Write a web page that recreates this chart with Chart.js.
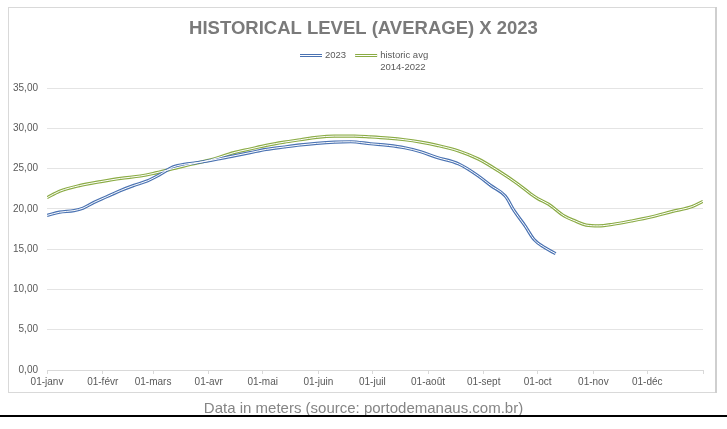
<!DOCTYPE html>
<html>
<head>
<meta charset="utf-8">
<script src="https://cdn.jsdelivr.net/npm/chart.js@4/dist/chart.umd.min.js"></script>
<style>
html,body{margin:0;padding:0;background:#fff;}
#wrap{width:727px;height:429px;position:relative;}
</style>
</head>
<body>
<div id="wrap"><canvas id="c" width="727" height="429"></canvas></div>
<script>
// ---- data ----
const titleText = 'HISTORICAL LEVEL (AVERAGE) X 2023';
const captionText = 'Data in meters (source: portodemanaus.com.br)';
const seriesNames = [['2023'], ['historic avg', '2014-2022']];
const monthStartDays = [0, 31, 59, 90, 120, 151, 181, 212, 243, 273, 304, 334, 365];
const monthLabels = ['01-janv', '01-févr', '01-mars', '01-avr', '01-mai', '01-juin', '01-juil', '01-août', '01-sept', '01-oct', '01-nov', '01-déc', ''];
const yTicks = [0, 5, 10, 15, 20, 25, 30, 35];

const days2023 = [0, 7, 15, 20, 26, 33, 41, 48, 56, 63, 70, 78, 85, 95, 104, 113, 122, 132, 141, 150, 160, 169, 180, 190, 199, 208, 217, 229, 240, 247, 255, 260, 266, 271, 277, 283];
const level2023 = [19.2, 19.6, 19.8, 20.1, 20.8, 21.5, 22.3, 22.9, 23.5, 24.3, 25.2, 25.6, 25.8, 26.2, 26.6, 27.0, 27.4, 27.7, 27.95, 28.15, 28.3, 28.35, 28.1, 27.9, 27.6, 27.1, 26.4, 25.6, 24.1, 22.9, 21.6, 19.75, 17.9, 16.2, 15.2, 14.45];

const daysHist = [0, 7, 18, 30, 41, 52, 59, 70, 81, 91, 104, 113, 122, 132, 141, 150, 160, 171, 180, 190, 199, 208, 217, 229, 240, 251, 262, 269, 273, 279, 288, 294, 300, 307, 315, 325, 336, 348, 359, 365];
const levelHist = [21.4, 22.2, 22.9, 23.4, 23.8, 24.1, 24.4, 25.0, 25.6, 26.1, 27.0, 27.45, 27.9, 28.3, 28.6, 28.9, 29.05, 29.05, 28.95, 28.8, 28.6, 28.3, 27.9, 27.2, 26.2, 24.75, 23.1, 21.9, 21.3, 20.6, 19.1, 18.5, 18.0, 17.9, 18.1, 18.5, 19.0, 19.7, 20.3, 20.95];

// ---- styles ----
const BLUE = '#4a72b2';
const GREEN = '#8aab44';
const SERIES_COLORS = [BLUE, GREEN];
const TICKFONT = "'Liberation Sans', Arial, sans-serif";

function pts(xs, ys) { return xs.map((x, i) => ({x: x, y: ys[i]})); }

const framePlugin = {
  id: 'frame',
  beforeDraw(chart) {
    const ctx = chart.ctx;
    ctx.save();
    ctx.fillStyle = '#fff';
    ctx.fillRect(0, 0, chart.width, chart.height);
    ctx.strokeStyle = '#d9d9d9';
    ctx.lineWidth = 1;
    ctx.strokeRect(8.5, 7.5, 707, 385);
    ctx.fillStyle = '#cfcfcf';
    ctx.fillRect(715, 7, 2, 386);
    ctx.restore();
  },
  afterDraw(chart) {
    const ctx = chart.ctx;
    ctx.save();
    // bottom rule
    ctx.fillStyle = '#000';
    ctx.fillRect(0, 415, chart.width, 2);
    // legend
    ctx.font = '9.5px ' + TICKFONT;
    ctx.textBaseline = 'middle';
    ctx.textAlign = 'left';
    const iconW = 22, gapIcon = 3, gapItem = 9, lineH = 12, y0 = 55.5;
    const widths = seriesNames.map(lines => iconW + gapIcon + Math.max(...lines.map(t => ctx.measureText(t).width)));
    const total = widths.reduce((a, b) => a + b, 0) + gapItem * (widths.length - 1);
    let x = Math.round(364 - total / 2);
    seriesNames.forEach((lines, k) => {
      ctx.fillStyle = SERIES_COLORS[k];
      ctx.fillRect(x, y0 - 1.5, iconW, 3);
      ctx.fillStyle = '#fff';
      ctx.fillRect(x, y0 - 0.5, iconW, 1);
      ctx.fillStyle = '#595959';
      lines.forEach((t, j) => ctx.fillText(t, x + iconW + gapIcon, y0 + j * lineH));
      x += widths[k] + gapItem;
    });
    ctx.restore();
  }
};

function lineDs(label, data, color, width, order) {
  return {
    label: label, data: data, borderColor: color, backgroundColor: color,
    borderWidth: width, pointRadius: 0, pointHoverRadius: 0,
    tension: 0.4, cubicInterpolationMode: 'monotone', fill: false, order: order
  };
}

new Chart(document.getElementById('c'), {
  type: 'line',
  data: {
    datasets: [
      lineDs('2023 (inner)', pts(days2023, level2023), '#ffffff', 1, 0),
      lineDs('historic (inner)', pts(daysHist, levelHist), '#ffffff', 1, 0),
      lineDs('2023', pts(days2023, level2023), BLUE, 3.2, 1),
      lineDs('historic avg 2014-2022', pts(daysHist, levelHist), GREEN, 3.2, 1)
    ]
  },
  options: {
    responsive: false,
    animation: false,
    events: [],
    layout: {padding: {left: 0, right: 0, top: 0, bottom: 9}},
    plugins: {
      title: {
        display: true, text: titleText, color: '#7a7a7a',
        font: {family: "'Liberation Sans', Arial, sans-serif", size: 18.5, weight: 'bold'},
        padding: {top: 18, bottom: 48}
      },
      subtitle: {
        display: true, text: captionText, position: 'bottom', color: '#858585',
        font: {family: "'Liberation Sans', Arial, sans-serif", size: 15, weight: 'normal'},
        padding: {top: 10, bottom: 2}
      },
      legend: {display: false},
      tooltip: {enabled: false}
    },
    scales: {
      x: {
        type: 'linear', min: 0, max: 365,
        afterBuildTicks(scale) { scale.ticks = monthStartDays.map(v => ({value: v})); },
        ticks: {
          autoSkip: false, maxRotation: 0, color: '#595959', padding: 2,
          font: {family: TICKFONT, size: 10},
          callback(value) { const i = monthStartDays.indexOf(value); return i >= 0 ? monthLabels[i] : ''; }
        },
        grid: {drawOnChartArea: false, drawTicks: true, tickLength: 4, color: '#d9d9d9'},
        border: {display: true, color: '#d9d9d9'}
      },
      y: {
        min: 0, max: 35,
        afterBuildTicks(scale) { scale.ticks = yTicks.map(v => ({value: v})); },
        afterFit(scale) { scale.width = 47; },
        ticks: {
          color: '#595959', padding: 9, font: {family: TICKFONT, size: 10},
          callback(value) { return value.toFixed(2).replace('.', ','); }
        },
        grid: {color: '#e4e4e4', drawTicks: false},
        border: {display: false}
      },
      yR: {
        position: 'right', display: true, min: 0, max: 35,
        afterFit(scale) { scale.width = 24; },
        ticks: {display: false},
        grid: {display: false, drawTicks: false},
        border: {display: false}
      }
    }
  },
  plugins: [framePlugin]
});
</script>
</body>
</html>
